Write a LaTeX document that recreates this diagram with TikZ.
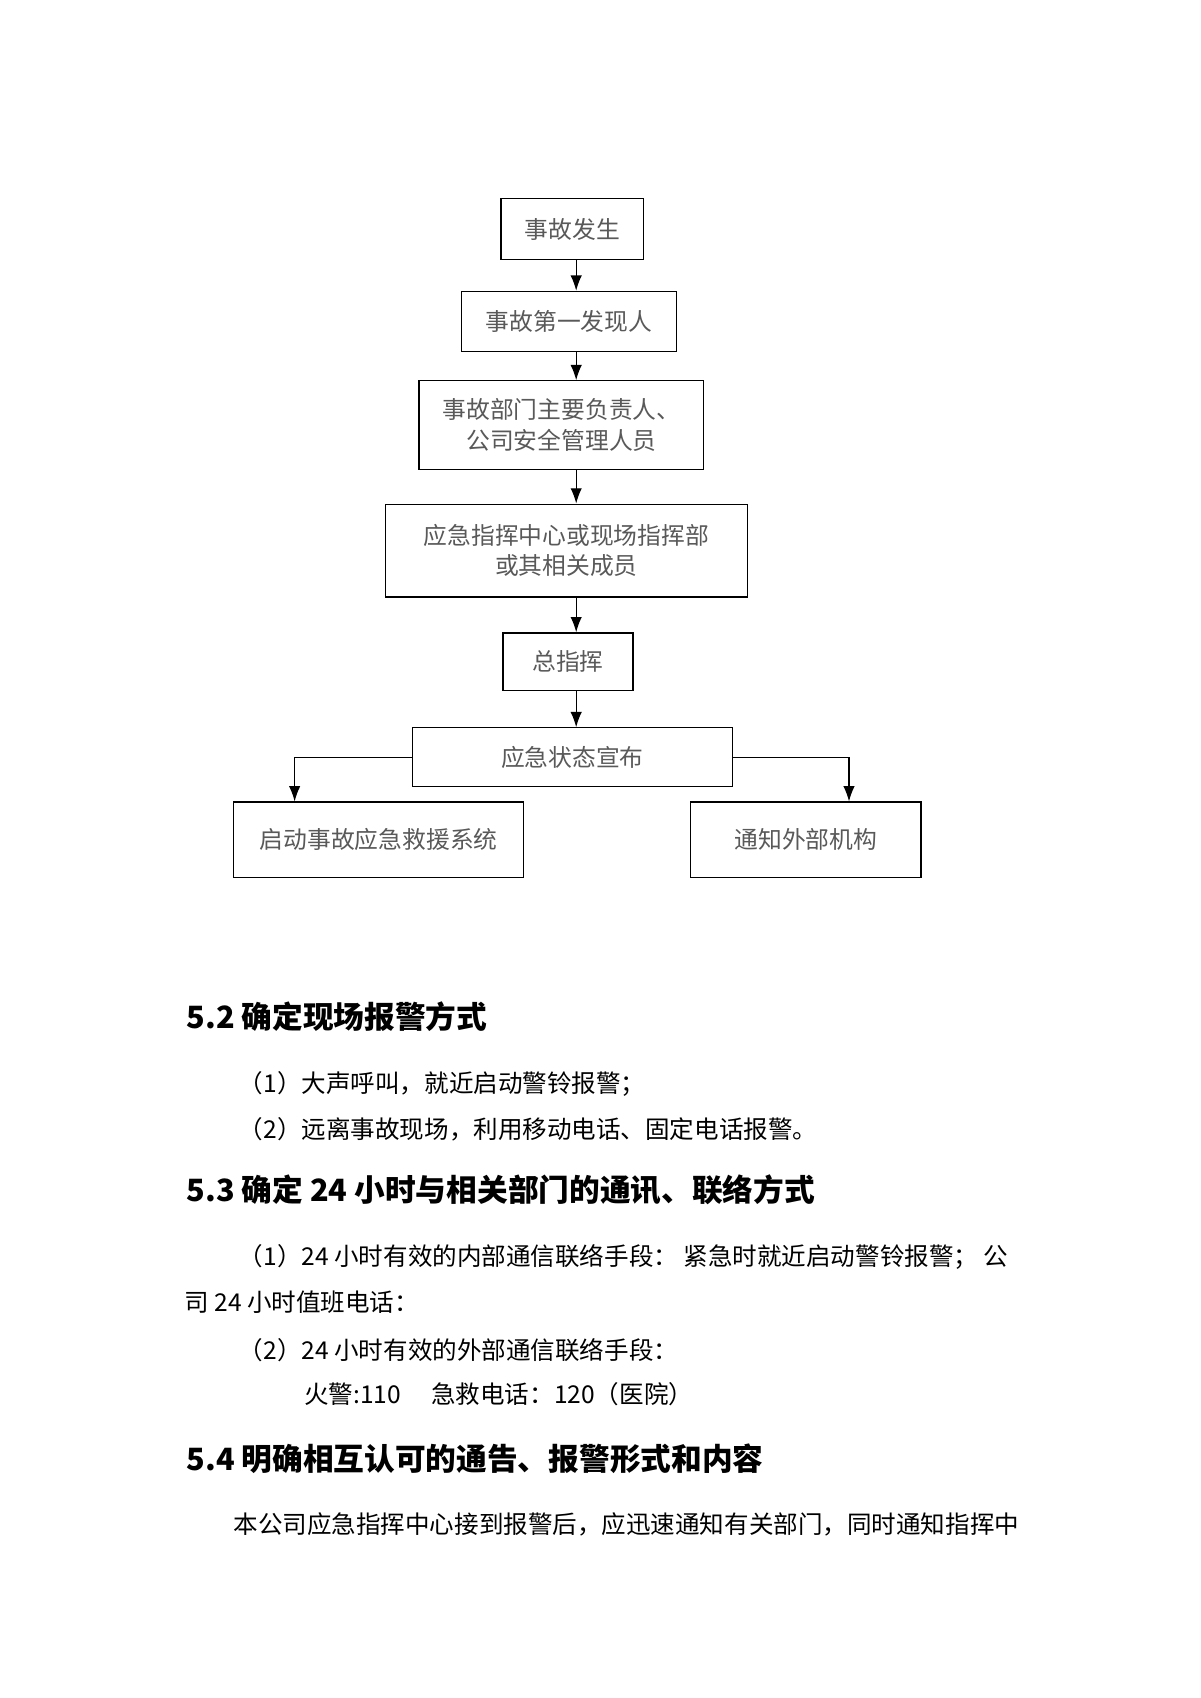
\documentclass[tikz,border=0pt]{standalone}
\usepackage{fontspec}
\setmainfont{Noto Sans CJK SC}
\usetikzlibrary{positioning,arrows.meta}
\begin{document}
\begin{tikzpicture}[x=0.025cm,y=-0.025cm]

    % Estilo das caixas e das setas
    \tikzset{
      box/.style={draw, thick, rectangle, text=black!65, font=\fontsize{15.5}{20}\selectfont, align=center, inner sep=0pt},
      seta/.style={draw, thick, -{Latex[length=3.5mm,width=2.6mm]}},
      linha/.style={anchor=west, font=\fontsize{16}{20}\selectfont},
      titulo/.style={anchor=west, font=\fontsize{20}{24}\selectfont\bfseries}
    }

    \useasboundingbox (0,0) rectangle (1100,1556);

    % Caixas do fluxograma
    \node[box, minimum width=131*0.025cm, minimum height=56*0.025cm] (fato) at (524.5,210) {事故发生};
    \node[box, minimum width=197*0.025cm, minimum height=55*0.025cm] (descobridor) at (521.5,294.5) {事故第一发现人};
    \node[box, minimum width=261*0.025cm, minimum height=81*0.025cm] (responsavel) at (514.5,389.5) {事故部门主要负责人、\\公司安全管理人员};
    \node[box, minimum width=332*0.025cm, minimum height=85*0.025cm] (centro) at (519,504.5) {应急指挥中心或现场指挥部\\或其相关成员};
    \node[box, minimum width=119*0.025cm, minimum height=53*0.025cm] (geral) at (520.5,606.5) {总指挥};
    \node[box, minimum width=293*0.025cm, minimum height=54*0.025cm] (estado) at (524.5,694) {应急状态宣布};
    \node[box, minimum width=266*0.025cm, minimum height=69*0.025cm] (sistema) at (347,769.5) {启动事故应急救援系统};
    \node[box, minimum width=211*0.025cm, minimum height=69*0.025cm] (externo) at (738.5,769.5) {通知外部机构};

    % Setas
    \foreach \a/\b in {fato/descobridor, descobridor/responsavel, responsavel/centro, centro/geral, geral/estado}
    {
      \draw[seta] (\a.south -| 528,0) -- (\b.north -| 528,0);
    }
    \draw[seta] (estado.west) -| (sistema.north -| 270,0);
    \draw[seta] (estado.east) -| (externo.north -| 778,0);

    % Texto abaixo do fluxograma
    \node[titulo] (t52) at (166,932) {5.2 确定现场报警方式};
    \node[linha] (l1) at (214,993) {（1）大声呼叫，就近启动警铃报警；};
    \node[linha] (l2) at (214,1035) {（2）远离事故现场，利用移动电话、固定电话报警。};
    \node[titulo] (t53) at (166,1090) {5.3 确定 24 小时与相关部门的通讯、联络方式};
    \node[linha] (l3) at (214,1152) {（1）24 小时有效的内部通信联络手段： 紧急时就近启动警铃报警； 公};
    \node[linha] (l4) at (164,1193) {司 24 小时值班电话：};
    \node[linha] (l5) at (214,1237) {（2）24 小时有效的外部通信联络手段：};
    \node[linha] (l6) at (274,1278) {火警:110\quad\ 急救电话：120（医院）};
    \node[titulo] (t54) at (166,1337) {5.4 明确相互认可的通告、报警形式和内容};
    \node[linha] (l7) at (209,1397) {本公司应急指挥中心接到报警后，应迅速通知有关部门，同时通知指挥中};

\end{tikzpicture}
\end{document}
